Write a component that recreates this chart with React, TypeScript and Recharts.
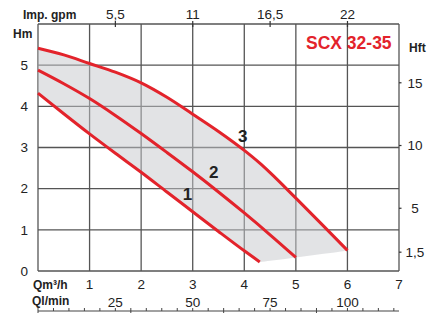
import { ComposedChart, Line, Area, XAxis, YAxis } from "recharts";

const RED = "#e3232b";
const INK = "#222";
const GRID = "#555";
const FONT = "Liberation Sans, Arial, sans-serif";

// flow Q (m3/h) and head H (m)
const curve1Q = [0, 0.5, 1, 1.5, 2, 2.5, 3, 3.5, 4, 4.3];
const curve1H = [4.32, 3.82, 3.33, 2.86, 2.4, 1.92, 1.44, 0.96, 0.49, 0.22];
const curve2Q = [0, 0.5, 1, 1.5, 2, 2.5, 3, 3.5, 4, 4.5, 5];
const curve2H = [4.88, 4.55, 4.19, 3.78, 3.34, 2.88, 2.41, 1.92, 1.41, 0.88, 0.33];
const curve3Q = [0, 0.5, 1, 1.5, 2, 2.5, 3, 3.5, 4, 4.3, 4.5, 5, 5.5, 6];
const curve3H = [5.41, 5.25, 5.04, 4.83, 4.57, 4.22, 3.81, 3.39, 2.93, 2.62, 2.39, 1.77, 1.14, 0.5];
// bottom edge of the grey band after curve 1 stops
const bandEdgeQ = [4.5, 5, 5.5, 6];
const bandEdgeH = [0.25, 0.33, 0.41, 0.5];

const curveNames = ["1", "2", "3"];
const curveLabelQ = [2.9, 3.41, 3.97];
const curveLabelH = [1.88, 2.4, 3.27];

const qTicks = [0, 1, 2, 3, 4, 5, 6, 7];
const hTicks = [0, 1, 2, 3, 4, 5, 6];
const gpmTicks = [5.5, 11, 16.5, 22];
const ftTicks = [1.5, 5, 10, 15];
const lminTicks = [25, 50, 75, 100];
const lminRuleTicks = [0, 5, 10, 15, 20, 25, 30, 35, 40, 45, 50, 55, 60, 65, 70, 75, 80, 85, 90, 95, 100, 105, 110, 115];

const Q_MAX = 7;
const H_MAX = 6;
const GPM_PER_M3H = 3.666;
const FT_PER_M = 3.2808;
const LMIN_PER_M3H = 16.667;

// plot box in px (matches the axis sizes given to the chart)
const PLOT = { left: 38, top: 24, width: 361, height: 247 };
const qx = (q: number) => PLOT.left + (q / Q_MAX) * PLOT.width;
const hy = (h: number) => PLOT.top + ((H_MAX - h) / H_MAX) * PLOT.height;
const RULE_Y = 311;

const toRows = (qs: number[], hs: number[]) => qs.map((q, i) => ({ q, h: hs[i] }));

const bandRows = curve3Q.map((q, i) => {
  const j = curve1Q.indexOf(q);
  const lo = j >= 0 ? curve1H[j] : bandEdgeH[bandEdgeQ.indexOf(q)];
  return {
    q,
    gpm: q * GPM_PER_M3H,
    lmin: q * LMIN_PER_M3H,
    band: [lo, curve3H[i]],
    ft: curve3H[i] * FT_PER_M,
  };
});

const comma = (v: number) => String(v).replace(".", ",");

const tickText = { fill: INK, fontSize: 13.5, fontFamily: FONT };

function GpmTick({ x, y, payload }: any) {
  return (
    <text x={x} y={y + 1} textAnchor="middle" fontSize={13.5} fontFamily={FONT} fill={INK}>
      {comma(payload.value)}
    </text>
  );
}

function FtTick({ x, y, payload }: any) {
  return (
    <text x={x + 10} y={y} dy="0.35em" textAnchor="middle" fontSize={13.5} fontFamily={FONT} fill={INK}>
      {comma(payload.value)}
    </text>
  );
}

// frame, grid and scale rules, painted under the chart
function Underlay() {
  const right = PLOT.left + PLOT.width;
  const bottom = PLOT.top + PLOT.height;
  return (
    <svg width={431} height={313} style={{ position: "absolute", left: 0, top: 0 }}>
      {qTicks.map((q) => (
        <line key={"v" + q} x1={qx(q)} x2={qx(q)} y1={PLOT.top} y2={bottom} stroke={GRID} strokeWidth={1.3} />
      ))}
      {hTicks.map((h) => (
        <line key={"h" + h} x1={PLOT.left} x2={right} y1={hy(h)} y2={hy(h)} stroke={GRID} strokeWidth={1.3} />
      ))}
      {gpmTicks.map((g) => (
        <line key={"g" + g} x1={qx(g / GPM_PER_M3H)} x2={qx(g / GPM_PER_M3H)} y1={PLOT.top - 3} y2={PLOT.top + 3} stroke="#333" strokeWidth={1.2} />
      ))}
      {ftTicks.map((f) => (
        <line key={"f" + f} x1={right} x2={right + 2.5} y1={hy(f / FT_PER_M)} y2={hy(f / FT_PER_M)} stroke="#333" strokeWidth={1.2} />
      ))}
      <line x1={PLOT.left} x2={right} y1={RULE_Y} y2={RULE_Y} stroke="#444" strokeWidth={1.2} />
      {lminRuleTicks.map((l) => (
        <line
          key={"l" + l}
          x1={qx(l / LMIN_PER_M3H)}
          x2={qx(l / LMIN_PER_M3H)}
          y1={RULE_Y - 3}
          y2={l % 30 === 0 ? RULE_Y + 4 : RULE_Y}
          stroke="#444"
          strokeWidth={1}
        />
      ))}
    </svg>
  );
}

export default function App() {
  const series = [
    toRows(curve1Q, curve1H),
    toRows(curve2Q, curve2H),
    toRows(curve3Q, curve3H),
  ];

  return (
    <div style={{ position: "absolute", left: 0, top: 0, width: 431, height: 313, background: "#fff" }}>
      <Underlay />
      <ComposedChart
        width={431}
        height={313}
        data={bandRows}
        margin={{ top: 0, right: 0, bottom: 0, left: 0 }}
      >
        <XAxis
          xAxisId="b_gpm"
          dataKey="gpm"
          orientation="top"
          type="number"
          domain={[0, Q_MAX * GPM_PER_M3H]}
          ticks={gpmTicks}
          interval={0}
          height={24}
          axisLine={false}
          tickLine={false}
          tickMargin={0}
          tick={<GpmTick />}
        />
        <XAxis
          xAxisId="a_q"
          dataKey="q"
          type="number"
          domain={[0, Q_MAX]}
          ticks={qTicks}
          interval={0}
          height={20}
          axisLine={false}
          tickLine={false}
          tickMargin={2}
          tick={tickText}
          tickFormatter={(v) => (v === 0 ? "" : String(v))}
        />
        <XAxis
          xAxisId="c_lmin"
          dataKey="lmin"
          type="number"
          domain={[0, Q_MAX * LMIN_PER_M3H]}
          ticks={lminTicks}
          interval={0}
          height={22}
          axisLine={false}
          tickLine={false}
          tickMargin={0}
          tick={tickText}
        />
        <YAxis
          yAxisId="h"
          type="number"
          domain={[0, H_MAX]}
          ticks={hTicks}
          interval={0}
          width={38}
          axisLine={false}
          tickLine={false}
          tickMargin={4}
          tick={tickText}
          tickFormatter={(v) => (v === H_MAX ? "" : String(v))}
        />
        <YAxis
          yAxisId="ft"
          orientation="right"
          type="number"
          dataKey="ft"
          domain={[0, H_MAX * FT_PER_M]}
          ticks={ftTicks}
          interval={0}
          width={32}
          axisLine={false}
          tickLine={false}
          tickMargin={0}
          tick={<FtTick />}
        />
        <Area
          xAxisId="a_q"
          yAxisId="h"
          data={bandRows}
          dataKey="band"
          type="monotone"
          stroke="none"
          fill="#c5c7cb"
          fillOpacity={0.5}
          isAnimationActive={false}
        />
        {/* hidden carriers so the secondary scales get drawn */}
        <Line xAxisId="b_gpm" yAxisId="ft" dataKey="ft" stroke="none" dot={false} activeDot={false} isAnimationActive={false} />
        <Line xAxisId="c_lmin" yAxisId="h" dataKey="q" stroke="none" dot={false} activeDot={false} isAnimationActive={false} />
        {series.map((rows, i) => (
          <Line
            key={curveNames[i]}
            xAxisId="a_q"
            yAxisId="h"
            data={rows}
            dataKey="h"
            type="monotone"
            stroke={RED}
            strokeWidth={3}
            dot={false}
            activeDot={false}
            isAnimationActive={false}
          />
        ))}
      </ComposedChart>
      <svg width={431} height={313} style={{ position: "absolute", left: 0, top: 0, pointerEvents: "none" }}>
        <text x={23} y={18.5} fontSize={12} fontWeight="bold" fontFamily={FONT} fill={INK}>Imp. gpm</text>
        <text x={13} y={38} fontSize={12} fontWeight="bold" fontFamily={FONT} fill={INK}>Hm</text>
        <text x={409} y={52} fontSize={12} fontWeight="bold" fontFamily={FONT} fill={INK}>Hft</text>
        <text x={306} y={49} fontSize={17.5} fontWeight="bold" fontFamily={FONT} fill={RED}>SCX 32-35</text>
        <text x={33} y={289} fontSize={12} fontWeight="bold" fontFamily={FONT} fill={INK}>Qm³/h</text>
        <text x={32} y={305} fontSize={12} fontWeight="bold" fontFamily={FONT} fill={INK}>Ql/min</text>
        {curveNames.map((name, i) => (
          <text
            key={name}
            x={qx(curveLabelQ[i])}
            y={hy(curveLabelH[i])}
            dy="0.35em"
            textAnchor="middle"
            fontSize={17}
            fontWeight="bold"
            fontFamily={FONT}
            fill={INK}
          >
            {name}
          </text>
        ))}
      </svg>
    </div>
  );
}
